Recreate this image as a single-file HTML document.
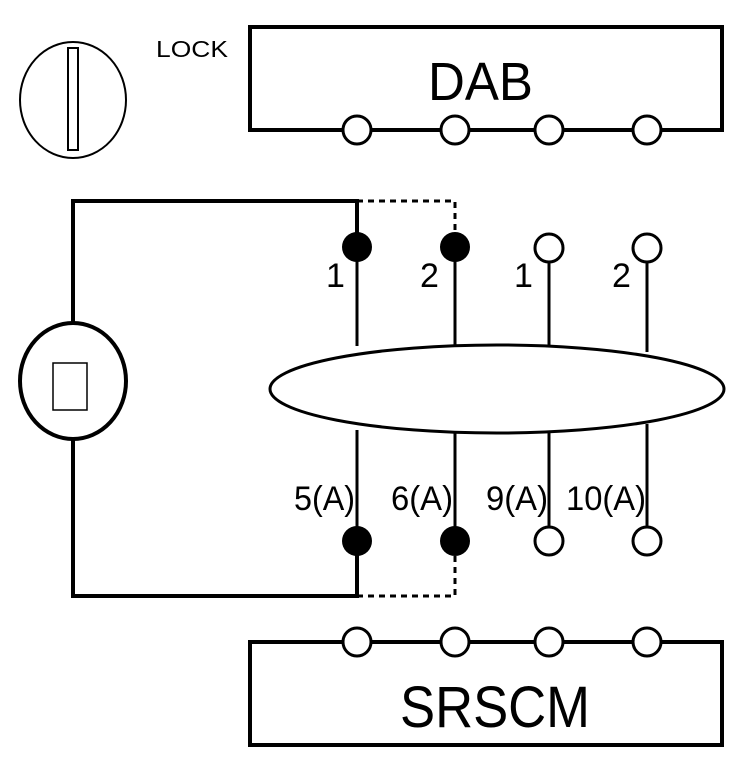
<!DOCTYPE html>
<html><head><style>body{margin:0;background:#fff}svg{display:block}text{font-family:"Liberation Sans",sans-serif;fill:#000}</style></head>
<body>
<svg width="752" height="768" viewBox="0 0 752 768" xmlns="http://www.w3.org/2000/svg">
<g fill="none" stroke="#000">
<ellipse cx="73" cy="100" rx="53" ry="58" stroke-width="2"/>
<rect x="68" y="48" width="10" height="102" stroke-width="2"/>
<rect x="250" y="27" width="472" height="103" stroke-width="4"/>
<rect x="250" y="642" width="472" height="103" stroke-width="4"/>
<path d="M357 247 V201 H73 V323 M73 440 V596 H357 V541" stroke-width="4"/>
<ellipse cx="73" cy="381" rx="53" ry="58" stroke-width="4"/>
<rect x="53" y="363" width="34" height="47" stroke-width="1.5"/>
<path d="M357 201 H455 V247 M357 596 H455 V541" stroke-width="3" stroke-dasharray="6,5"/>
<ellipse cx="497" cy="389" rx="227" ry="44" stroke-width="3"/>
<path d="M357 247 V346 M455 247 V345 M549 262 V345 M647 262 V352 M357 430 V541 M455 432 V541 M549 432 V527 M647 424 V527" stroke-width="3"/>
</g>
<g fill="#fff" stroke="#000" stroke-width="3">
<circle cx="357" cy="130" r="14"/><circle cx="455" cy="130" r="14"/><circle cx="549" cy="130" r="14"/><circle cx="647" cy="130" r="14"/>
<circle cx="357" cy="642" r="14"/><circle cx="455" cy="642" r="14"/><circle cx="549" cy="642" r="14"/><circle cx="647" cy="642" r="14"/>
<circle cx="549" cy="248" r="14"/><circle cx="647" cy="248" r="14"/>
<circle cx="549" cy="541" r="14"/><circle cx="647" cy="541" r="14"/>
</g>
<g fill="#000">
<circle cx="357" cy="247" r="15"/><circle cx="455" cy="247" r="15"/>
<circle cx="357" cy="541" r="15"/><circle cx="455" cy="541" r="15"/>
</g>
<text x="156" y="57" font-size="23" textLength="72" lengthAdjust="spacingAndGlyphs">LOCK</text>
<text x="428" y="100" font-size="54" textLength="105" lengthAdjust="spacingAndGlyphs">DAB</text>
<text x="400" y="727" font-size="58" textLength="190" lengthAdjust="spacingAndGlyphs">SRSCM</text>
<g font-size="34">
<text x="326" y="287">1</text><text x="420" y="287">2</text><text x="514" y="287">1</text><text x="612" y="287">2</text>
<text x="294" y="510" textLength="61" lengthAdjust="spacingAndGlyphs">5(A)</text>
<text x="391" y="510" textLength="62" lengthAdjust="spacingAndGlyphs">6(A)</text>
<text x="486" y="510" textLength="62" lengthAdjust="spacingAndGlyphs">9(A)</text>
<text x="566" y="510" textLength="80" lengthAdjust="spacingAndGlyphs">10(A)</text>
</g>
</svg>
</body></html>
